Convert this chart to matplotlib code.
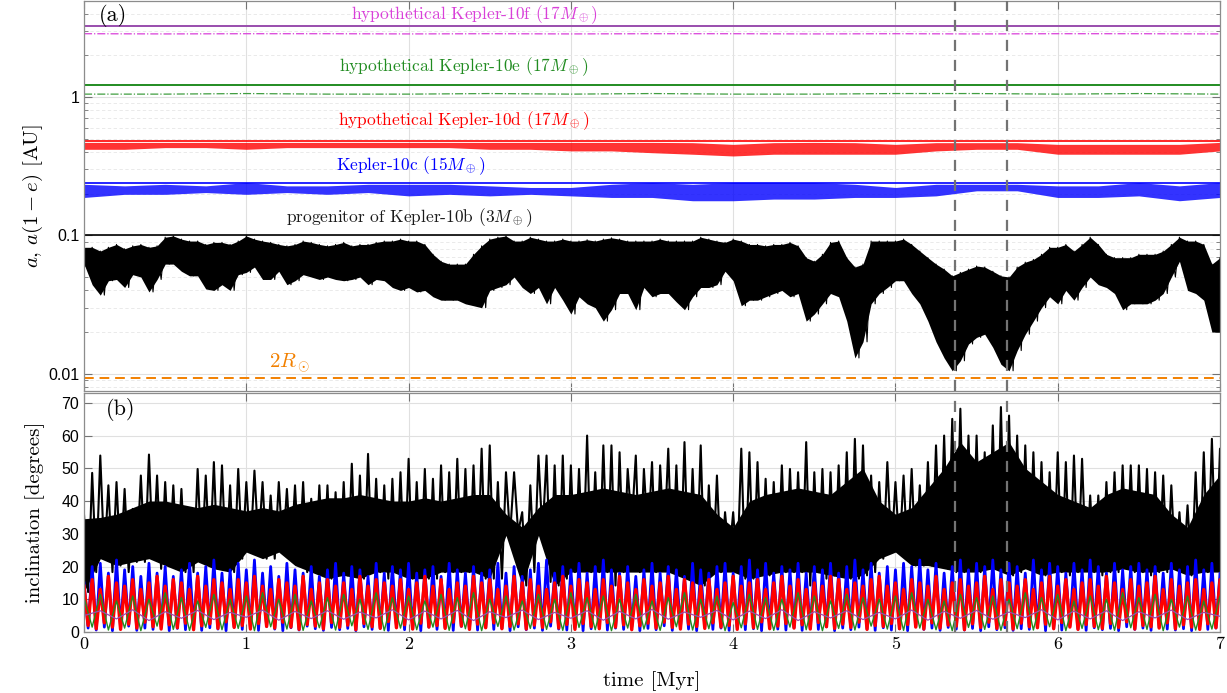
import numpy as np
import matplotlib
matplotlib.use("Agg")
import matplotlib.pyplot as plt
from matplotlib.ticker import FixedLocator, NullFormatter, LogLocator

plt.rcParams['mathtext.fontset'] = 'cm'
plt.rcParams['axes.formatter.use_mathtext'] = True

# time grids [Myr]
t_fine = np.round(np.arange(0, 141) * 0.05, 3)
t_mid = np.round(np.arange(0, 71) * 0.1, 3)
t_band = np.round(np.arange(0, 29) * 0.25, 3)
t_slow = np.round(np.arange(0, 15) * 0.5, 3)

# initial semi-major axes [AU]
a_b, a_c, a_d, a_e, a_f = 0.1, 0.239, 0.481, 1.22, 3.29
r_two_sun = 0.0093
t_events = [5.37, 5.69]

# pericentre of the Kepler-10b progenitor: lower / upper envelope [AU]
peri_b_lo = [0.062, 0.044, 0.037, 0.047, 0.048, 0.042, 0.052, 0.050, 0.039, 0.048,
             0.062, 0.062, 0.055, 0.051, 0.051, 0.041, 0.040, 0.044, 0.040, 0.052,
             0.054, 0.059, 0.048, 0.048, 0.055, 0.044, 0.047, 0.052, 0.050, 0.048,
             0.050, 0.048, 0.047, 0.048, 0.050, 0.044, 0.048, 0.047, 0.042, 0.040,
             0.042, 0.039, 0.040, 0.036, 0.034, 0.034, 0.034, 0.032, 0.031, 0.030,
             0.040, 0.042, 0.044, 0.050, 0.042, 0.038, 0.042, 0.032, 0.042, 0.034,
             0.027, 0.036, 0.032, 0.030, 0.024, 0.029, 0.038, 0.038, 0.029, 0.042,
             0.036, 0.038, 0.038, 0.033, 0.029, 0.036, 0.042, 0.042, 0.044, 0.055,
             0.047, 0.031, 0.034, 0.034, 0.036, 0.038, 0.040, 0.036, 0.038, 0.024,
             0.027, 0.032, 0.038, 0.036, 0.024, 0.013, 0.017, 0.032, 0.038, 0.042,
             0.047, 0.047, 0.038, 0.032, 0.024, 0.017, 0.013, 0.0105, 0.0124, 0.0164,
             0.0183, 0.0193, 0.0155, 0.0117, 0.0105, 0.0147, 0.0193, 0.024, 0.030, 0.036,
             0.032, 0.040, 0.034, 0.042, 0.050, 0.044, 0.042, 0.038, 0.029, 0.032,
             0.032, 0.032, 0.034, 0.038, 0.050, 0.065, 0.040, 0.038, 0.034, 0.020,
             0.020]
peri_b_hi = [0.082, 0.082, 0.077, 0.082, 0.086, 0.080, 0.084, 0.086, 0.082, 0.084,
             0.097, 0.099, 0.094, 0.091, 0.091, 0.086, 0.089, 0.089, 0.086, 0.091,
             0.099, 0.094, 0.091, 0.089, 0.086, 0.084, 0.086, 0.091, 0.089, 0.086,
             0.084, 0.086, 0.089, 0.084, 0.086, 0.086, 0.089, 0.091, 0.091, 0.094,
             0.091, 0.091, 0.086, 0.073, 0.065, 0.062, 0.062, 0.062, 0.073, 0.084,
             0.094, 0.097, 0.099, 0.091, 0.091, 0.097, 0.094, 0.091, 0.091, 0.094,
             0.091, 0.091, 0.093, 0.091, 0.094, 0.096, 0.094, 0.091, 0.091, 0.091,
             0.091, 0.094, 0.091, 0.091, 0.091, 0.091, 0.097, 0.094, 0.091, 0.089,
             0.094, 0.091, 0.086, 0.086, 0.084, 0.086, 0.086, 0.089, 0.084, 0.069,
             0.065, 0.073, 0.089, 0.091, 0.069, 0.059, 0.062, 0.091, 0.091, 0.091,
             0.091, 0.094, 0.086, 0.077, 0.069, 0.062, 0.057, 0.051, 0.054, 0.057,
             0.060, 0.059, 0.055, 0.051, 0.050, 0.059, 0.064, 0.067, 0.073, 0.082,
             0.082, 0.086, 0.077, 0.086, 0.097, 0.086, 0.073, 0.069, 0.069, 0.069,
             0.073, 0.073, 0.073, 0.077, 0.086, 0.097, 0.091, 0.091, 0.086, 0.062,
             0.069]

# pericentre bands of Kepler-10c and hypothetical Kepler-10d [AU]
peri_c_hi = [0.234, 0.228, 0.234, 0.228, 0.241, 0.228, 0.228, 0.234, 0.234, 0.234,
             0.228, 0.222, 0.222, 0.234, 0.241, 0.234, 0.241, 0.241, 0.241, 0.234,
             0.222, 0.234, 0.234, 0.234, 0.228, 0.228, 0.241, 0.228, 0.241]
peri_c_lo = [0.188, 0.198, 0.198, 0.204, 0.198, 0.204, 0.198, 0.204, 0.193, 0.198,
             0.193, 0.198, 0.193, 0.188, 0.188, 0.178, 0.178, 0.183, 0.183, 0.188,
             0.188, 0.193, 0.210, 0.210, 0.188, 0.188, 0.193, 0.178, 0.188]
peri_d_hi = [0.470, 0.470, 0.470, 0.470, 0.470, 0.470, 0.470, 0.470, 0.470, 0.470,
             0.470, 0.470, 0.470, 0.470, 0.470, 0.468, 0.455, 0.468, 0.470, 0.468,
             0.455, 0.468, 0.468, 0.468, 0.455, 0.455, 0.455, 0.455, 0.470]
peri_d_lo = [0.419, 0.419, 0.431, 0.431, 0.419, 0.431, 0.431, 0.431, 0.431, 0.431,
             0.419, 0.419, 0.408, 0.408, 0.396, 0.386, 0.375, 0.386, 0.386, 0.386,
             0.386, 0.408, 0.419, 0.419, 0.386, 0.386, 0.386, 0.386, 0.408]

# pericentres of hypothetical Kepler-10e and 10f [AU]
peri_e = [1.05, 1.05, 1.06, 1.05, 1.05, 1.06, 1.05, 1.06, 1.05, 1.05, 1.06, 1.06, 1.05, 1.06, 1.05]
peri_f = [2.87, 2.86, 2.87, 2.87, 2.86, 2.87, 2.86, 2.87, 2.87, 2.86, 2.87, 2.86, 2.87, 2.87, 2.86]

# inclinations [degrees]
inc_b_hi = [35.6, 48.6, 53.9, 44.8, 45.8, 43.7, 37.6, 47.8, 54.2, 47.8,
            45.8, 44.8, 43.7, 37.6, 49.8, 47.8, 51.9, 50.9, 44.8, 49.8,
            45.8, 49.3, 45.8, 41.7, 45.8, 43.7, 44.8, 45.8, 40.7, 44.8,
            44.8, 42.7, 45.8, 51.4, 47.8, 54.4, 46.8, 44.8, 46.8, 48.8,
            52.9, 45.8, 49.8, 46.8, 50.9, 48.8, 52.9, 49.8, 50.9, 56.0,
            57.0, 45.8, 48.8, 48.8, 36.6, 44.8, 53.9, 53.9, 50.9, 53.9,
            50.9, 49.8, 60.0, 48.8, 57.0, 57.0, 54.9, 49.8, 53.9, 49.8,
            51.9, 50.9, 56.0, 50.9, 58.0, 49.8, 57.0, 44.8, 47.8, 36.6,
            36.6, 56.0, 54.9, 51.9, 46.8, 45.8, 50.9, 49.8, 48.8, 58.0,
            48.8, 49.8, 48.8, 50.9, 54.9, 59.0, 57.0, 47.8, 45.8, 51.9,
            45.8, 47.8, 49.8, 44.8, 51.9, 57.0, 60.0, 65.1, 68.2, 60.0,
            60.0, 54.9, 63.1, 68.7, 66.1, 60.0, 57.0, 54.9, 51.9, 48.8,
            54.9, 51.9, 53.9, 52.9, 41.7, 41.7, 45.8, 48.8, 50.9, 50.9,
            50.9, 49.8, 48.8, 47.8, 44.8, 36.6, 38.7, 48.8, 54.9, 59.0,
            56.0]
inc_b_lo = [12.2, 18.3, 22.4, 18.3, 20.3, 18.3, 21.4, 21.4, 22.4, 19.3,
            20.3, 19.3, 18.3, 18.3, 21.4, 21.4, 19.3, 20.3, 18.3, 22.4,
            24.4, 26.4, 22.4, 22.4, 24.4, 22.4, 20.3, 18.3, 18.3, 18.3,
            16.3, 18.3, 17.3, 17.3, 16.3, 18.3, 18.3, 16.3, 18.3, 17.3,
            16.3, 18.3, 16.3, 16.3, 18.3, 18.3, 18.3, 18.3, 18.3, 16.3,
            16.3, 16.3, 29.5, 30.5, 14.2, 18.3, 29.5, 15.3, 14.2, 16.3,
            18.3, 20.3, 18.3, 18.3, 18.3, 14.2, 18.3, 32.6, 18.3, 28.5,
            18.3, 26.4, 18.3, 18.3, 16.3, 18.3, 14.2, 18.3, 18.3, 22.4,
            18.3, 16.3, 16.3, 18.3, 17.3, 18.3, 18.3, 18.3, 18.3, 14.2,
            18.3, 16.3, 17.3, 18.3, 16.3, 16.3, 17.3, 18.3, 22.4, 24.4,
            24.4, 22.4, 20.3, 20.3, 20.3, 20.3, 19.3, 18.3, 18.3, 19.3,
            18.3, 20.3, 19.3, 18.3, 17.3, 18.3, 19.3, 18.3, 17.3, 18.3,
            18.3, 17.3, 18.3, 19.3, 18.3, 17.3, 18.3, 18.3, 19.3, 18.3,
            18.3, 17.3, 18.3, 18.3, 19.3, 18.3, 17.3, 18.3, 18.3, 19.3,
            18.3]
# top of the densely filled part of the Kepler-10b inclination trace, every 0.1 Myr
inc_b_core = [34.6, 35, 36, 38, 40, 40, 39, 38, 39, 38,
              37, 38, 37, 39, 40, 41, 41, 42, 41, 40,
              40, 41, 40, 41, 42, 42, 36, 32, 38, 42,
              42, 43, 44, 43, 42, 43, 44, 43, 42, 36,
              32, 40, 42, 43, 44, 43, 42, 46, 50, 40,
              36, 38, 44, 50, 58, 52, 55, 58, 50, 46,
              42, 40, 38, 42, 44, 43, 42, 36, 32, 42,
              48]
inc_c_hi = [15, 20, 21, 18, 22, 19, 20, 17, 21, 18, 20, 17, 19, 21, 18, 20, 22, 18, 19, 21,
            19, 22, 18, 20, 17, 21, 19, 18, 20, 17, 19, 21, 18, 20, 19, 17, 21, 18, 20, 19,
            21, 18, 19, 20, 17, 21, 19, 18, 20, 18, 19, 21, 18, 20, 17, 19, 21, 22, 18, 20,
            19, 21, 18, 20, 22, 19, 18, 20, 17, 19, 21, 18, 20, 19, 17, 21, 19, 18, 20, 21,
            18, 20, 22, 19, 21, 18, 20, 19, 21, 18, 20, 19, 21, 18, 20, 22, 19, 21, 18, 20,
            19, 21, 20, 22, 19, 21, 18, 20, 22, 19, 21, 20, 22, 19, 21, 20, 18, 22, 19, 21,
            20, 18, 21, 19, 22, 20, 18, 21, 19, 20, 21, 19, 20, 18, 21, 19, 20, 22, 19, 21,
            18]
inc_c_lo = [1.2, 0.6, 1.5, 0.4, 1.0, 1.8, 0.5, 1.2, 0.8, 1.6, 0.4, 1.1, 0.7, 1.9, 0.5, 1.3, 0.9, 0.4, 1.5, 0.8,
            1.2, 0.5, 1.7, 0.9, 0.4, 1.3, 0.6, 1.8, 1.0, 0.5, 1.4, 0.7, 1.1, 0.4, 1.6, 0.8, 1.2, 0.5, 1.9, 0.7,
            1.0, 0.4, 1.5, 0.8, 1.3, 0.5, 1.7, 0.9, 0.6, 1.4, 0.8, 1.1, 0.4, 1.6, 0.7, 1.2, 0.5, 1.8, 0.9, 0.6,
            1.3, 0.4, 1.0, 1.7, 0.6, 1.2, 0.8, 1.5, 0.4, 1.1, 0.7, 1.9, 0.5, 1.3, 0.9, 0.4, 1.6, 0.8, 1.2, 0.5,
            1.4, 0.7, 1.0, 0.4, 1.8, 0.9, 0.6, 1.3, 0.5, 1.1, 0.8, 1.6, 0.4, 1.2, 0.7, 1.5, 0.9, 0.5, 1.3, 0.6,
            1.0, 0.4, 1.7, 0.8, 1.2, 0.5, 1.4, 0.9, 0.6, 1.1, 0.4, 1.6, 0.7, 1.3, 0.5, 1.0, 0.8, 1.5, 0.4, 1.2,
            0.6, 1.8, 0.9, 0.5, 1.3, 0.7, 1.1, 0.4, 1.6, 0.8, 1.2, 0.5, 1.4, 0.9, 0.6, 1.0, 0.4, 1.7, 0.8, 1.2,
            0.5]
inc_d_hi = [14, 16, 13, 17, 15, 14, 16, 13, 15, 17, 14, 16, 15, 13, 17, 14, 16, 15, 13, 16,
            15, 17, 14, 13, 16, 15, 14, 17, 13, 15, 16, 14, 15, 13, 17, 14, 16, 15, 14, 16,
            13, 15, 17, 14, 16, 13, 15, 14, 17, 15, 16, 13, 14, 17, 15, 16, 14, 13, 15, 17,
            14, 16, 15, 13, 16, 14, 17, 15, 13, 16, 14, 15, 17, 13, 16, 15, 14, 16, 13, 15,
            17, 14, 15, 16, 13, 15, 17, 14, 16, 13, 15, 14, 17, 16, 13, 15, 14, 16, 17, 14,
            15, 13, 16, 15, 14, 17, 13, 15, 16, 14, 15, 17, 13, 16, 15, 14, 16, 13, 15, 17,
            14, 16, 13, 15, 16, 14, 17, 15, 13, 16, 14, 15, 17, 13, 16, 14, 15, 16, 13, 15,
            16]
inc_d_lo = [2.0, 1.0, 2.8, 1.5, 0.8, 2.4, 1.2, 3.0, 1.6, 0.9, 2.2, 1.3, 2.7, 0.7, 1.9, 2.5, 1.1, 3.1, 1.4, 2.0,
            0.9, 2.6, 1.7, 1.2, 3.0, 1.5, 0.8, 2.3, 1.8, 1.0, 2.9, 1.4, 2.1, 0.7, 2.6, 1.6, 1.1, 3.2, 1.3, 2.2,
            0.9, 2.7, 1.5, 2.0, 1.1, 3.0, 1.8, 0.8, 2.4, 1.3, 2.8, 1.0, 1.7, 2.5, 0.9, 2.1, 1.4, 3.1, 1.2, 2.3,
            0.8, 2.6, 1.6, 1.0, 2.9, 1.5, 2.2, 0.7, 1.9, 2.7, 1.2, 3.0, 1.4, 0.9, 2.4, 1.7, 1.1, 2.8, 1.5, 2.0,
            0.8, 2.5, 1.3, 3.1, 1.0, 1.8, 2.6, 1.2, 2.2, 0.9, 2.9, 1.6, 1.1, 2.4, 1.4, 3.0, 0.8, 2.0, 1.7, 2.6,
            1.0, 2.3, 1.5, 0.9, 2.8, 1.2, 2.1, 1.8, 0.7, 2.5, 1.4, 3.0, 1.1, 2.2, 0.9, 2.7, 1.6, 1.3, 2.4, 1.0,
            2.9, 1.5, 0.8, 2.3, 1.7, 1.1, 2.6, 1.4, 3.1, 0.9, 2.0, 1.6, 1.2, 2.8, 1.0, 2.2, 1.5, 0.8, 2.5, 1.3,
            2.0]
inc_e_hi = [10.5, 11.5, 9.5, 11.0, 10.0, 12.0, 10.5, 9.5, 11.5, 10.0,
            11.0, 12.0, 10.0, 11.5, 9.5, 10.5, 11.5, 10.0, 12.0, 10.5,
            11.0, 9.5, 11.5, 10.5, 12.0, 10.0, 11.0, 9.5, 11.5, 10.0,
            12.0, 10.5, 11.0, 10.0, 11.5, 9.5, 10.5, 12.0, 10.0, 11.0,
            9.0, 11.5, 10.5, 10.0, 12.0, 11.0, 9.5, 11.5, 10.5, 10.0,
            11.0, 12.0, 10.0, 9.5, 11.5, 10.5, 11.0, 10.0, 12.0, 10.5,
            11.5, 9.5, 11.0, 10.0, 12.0, 10.5, 11.5, 10.0, 11.0, 9.5,
            11.0]
inc_e_lo = [1.5, 0.6, 1.2, 0.4, 1.8, 0.8, 0.5, 1.4, 0.7, 1.1,
            0.4, 1.6, 0.9, 0.5, 1.3, 0.6, 1.9, 0.8, 0.4, 1.2,
            0.7, 1.5, 0.5, 1.0, 0.4, 1.7, 0.6, 1.1, 0.8, 0.5,
            1.4, 0.7, 0.4, 1.2, 0.9, 0.5, 1.6, 0.6, 1.0, 0.4,
            1.3, 0.8, 0.5, 1.5, 0.7, 0.4, 1.1, 0.6, 1.8, 0.9,
            0.5, 1.2, 0.7, 0.4, 1.4, 0.8, 0.5, 1.0, 0.6, 1.6,
            0.4, 1.1, 0.7, 0.5, 1.3, 0.8, 0.4, 1.5, 0.6, 0.9,
            0.5]
inc_f = [5.0, 6.5, 4.0, 6.8, 3.5, 6.2, 4.2, 6.6, 3.8, 6.0,
         4.5, 6.7, 3.6, 6.3, 4.1, 6.5, 3.9, 6.1, 4.3, 6.8,
         3.7, 6.4, 4.0, 6.6, 3.5, 6.2, 4.4, 6.7, 3.8, 6.0,
         4.2, 6.5, 3.6, 6.3, 4.0, 6.9, 3.9, 6.1, 4.5, 6.6,
         3.7, 6.4, 4.1, 6.8, 3.5, 6.2, 4.3, 6.5, 3.8, 6.0,
         4.0, 6.7, 3.6, 6.3, 4.2, 6.6, 3.9, 6.1, 4.4, 6.8,
         3.7, 6.4, 4.0, 6.5, 3.5, 6.2, 4.3, 6.7, 3.8, 6.0,
         4.8]

purple = (0.6, 0.3, 0.68)
magenta = (0.85, 0.25, 0.85)
green = (0.13, 0.55, 0.13)
orange = (0.95, 0.5, 0.0)
grey_ev = (0.45, 0.45, 0.45)


def zigzag(t, hi, lo, dt):
    # alternate between crest and trough values along time
    t = np.asarray(t)
    x = np.empty(2 * len(t))
    y = np.empty(2 * len(t))
    x[0::2], x[1::2] = t, t + dt
    y[0::2], y[1::2] = hi, lo
    return x, y


fig = plt.figure(figsize=(12.27, 6.93), dpi=100)
ax1 = fig.add_axes([0.0685, 0.4358, 0.9258, 0.5628])
ax2 = fig.add_axes([0.0685, 0.088, 0.9258, 0.3449])

# ---- panel (a): semi-major axes and pericentres
ax1.set_yscale('log')
ax1.axhline(a_f, color=purple, lw=1.4)
ax1.plot(t_slow, peri_f, color=magenta, lw=0.9, ls='-.')
ax1.axhline(a_e, color=green, lw=1.4)
ax1.plot(t_slow, peri_e, color=(0.25, 0.62, 0.25), lw=0.9, ls='-.')
ax1.axhline(a_d, color='red', lw=1.2)
ax1.fill_between(t_band, peri_d_lo, peri_d_hi, color='red', alpha=0.8, lw=0)
ax1.axhline(a_c, color='blue', lw=1.2)
ax1.fill_between(t_band, peri_c_lo, peri_c_hi, color='blue', alpha=0.8, lw=0)
ax1.axhline(a_b, color='black', lw=1.2)
ax1.fill_between(t_fine, peri_b_lo, peri_b_hi, color='black', lw=0)
xb, yb = zigzag(t_fine, peri_b_hi, peri_b_lo, 0.025)
ax1.plot(xb, yb, color='black', lw=0.8)
ax1.axhline(r_two_sun, color=orange, lw=1.4, ls=(0, (5, 3)))

ax1.set_xlim(0, 7)
ax1.set_ylim(0.0075, 4.95)
ax1.yaxis.set_major_locator(FixedLocator([0.01, 0.1, 1]))
ax1.set_yticklabels(['0.01', '0.1', '1'], family='Liberation Sans', fontsize=11.5)
ax1.yaxis.set_minor_locator(LogLocator(base=10, subs=np.arange(2, 10)))
ax1.yaxis.set_minor_formatter(NullFormatter())
ax1.set_xticks(range(8))
ax1.set_xticklabels([])
ax1.grid(True, which='major', color='0.88', lw=0.8)
ax1.grid(True, which='minor', axis='y', color='0.9', lw=0.6, ls=(0, (4, 3)))
ax1.set_ylabel(r'$a$, $a(1-e)$ [AU]', family='cmr10', fontsize=15)
ax1.yaxis.set_label_coords(-0.034, 0.5)

lab = dict(transform=ax1.transAxes, ha='center', va='center', family='cmr10', fontsize=12.5)
ax1.text(0.344, 0.964, r'hypothetical Kepler-10f $(17M_\oplus)$', color=magenta, **lab)
ax1.text(0.334, 0.831, r'hypothetical Kepler-10e $(17M_\oplus)$', color=green, **lab)
ax1.text(0.334, 0.692, r'hypothetical Kepler-10d $(17M_\oplus)$', color='red', **lab)
ax1.text(0.288, 0.579, r'Kepler-10c $(15M_\oplus)$', color='blue', **lab)
ax1.text(0.286, 0.444, r'progenitor of Kepler-10b $(3M_\oplus)$', color='0.1', **lab)
ax1.text(0.181, 0.072, r'$2R_\odot$', color=orange, transform=ax1.transAxes,
         ha='center', va='center', fontsize=15)
ax1.text(0.0255, 0.962, '(a)', transform=ax1.transAxes, ha='center', va='center',
         family='cmr10', fontsize=16)

# ---- panel (b): inclinations
ax2.fill_between(t_mid, inc_b_lo[::2], inc_b_core, color='black', lw=0)
xb, yb = zigzag(t_fine, inc_b_hi, inc_b_lo, 0.025)
ax2.plot(xb, yb, color='black', lw=1.5)
xc, yc = zigzag(t_fine, inc_c_hi, inc_c_lo, 0.025)
ax2.plot(xc, yc, color='blue', lw=2.0)
xd, yd = zigzag(t_fine, inc_d_hi, inc_d_lo, 0.025)
ax2.plot(xd, yd, color='red', lw=2.4)
xe, ye = zigzag(t_mid, inc_e_hi, inc_e_lo, 0.05)
ax2.plot(xe, ye, color=green, lw=1.0)
ax2.plot(t_mid, inc_f, color=purple, lw=0.9)

ax2.set_xlim(0, 7)
ax2.set_ylim(0, 73)
ax2.set_yticks(range(0, 71, 10))
ax2.set_yticklabels([str(v) for v in range(0, 71, 10)], family='Liberation Sans', fontsize=11.5)
ax2.set_xticks(range(8))
ax2.set_xticklabels([str(v) for v in range(8)], family='cmr10', fontsize=13)
ax2.grid(True, color='0.88', lw=0.8)
ax2.set_ylabel('inclination [degrees]', family='cmr10', fontsize=15)
ax2.yaxis.set_label_coords(-0.034, 0.5)
ax2.set_xlabel('time [Myr]', family='cmr10', fontsize=15, labelpad=14)
ax2.text(0.032, 0.929, '(b)', transform=ax2.transAxes, ha='center', va='center',
         family='cmr10', fontsize=16)

for ax in (ax1, ax2):
    for tv in t_events:
        ax.axvline(tv, color=grey_ev, lw=1.6, ls=(0, (5, 4)), zorder=5)
    ax.set_axisbelow(True)
    ax.tick_params(which='both', direction='in', top=True, right=True, color='0.45')
    ax.tick_params(which='major', length=6)
    ax.tick_params(which='minor', length=3)
    for s in ax.spines.values():
        s.set_color('0.55')
        s.set_linewidth(0.9)

fig.savefig('out.png', dpi=100)
